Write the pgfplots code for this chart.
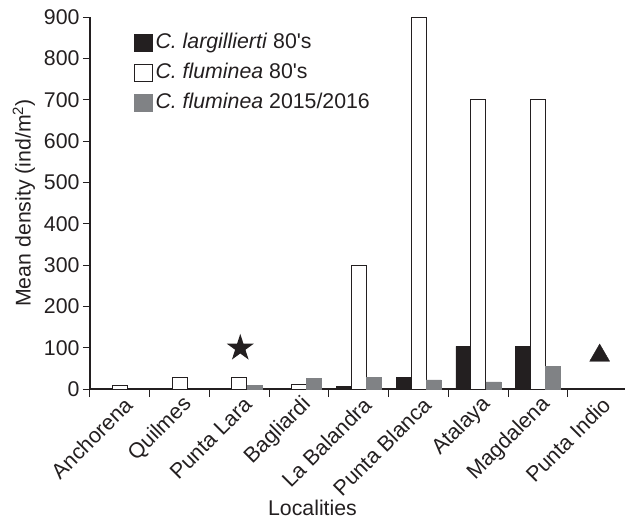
\documentclass[border=0pt]{standalone}
\usepackage{pgfplots}
\pgfplotsset{compat=1.18}
\usepackage{fontspec}
\setmainfont{Liberation Sans}[Ligatures=TeXOff]
\definecolor{dk}{HTML}{231F20}
\definecolor{gr}{HTML}{808285}
\newcommand\f{\fontsize{21.3bp}{25bp}\selectfont}
\newcommand\fx{\fontsize{21.5bp}{25bp}\selectfont}
\pgfplotsset{sq/.style={legend image code/.code={\draw[##1] (0bp,-8.5bp) rectangle (18bp,8.5bp);}}}
\pgfdeclareplotmark{fstar}{%
  \pgfpathmoveto{\pgfpointpolar{90}{\pgfplotmarksize}}%
  \pgfpathlineto{\pgfpointpolar{126}{0.382\pgfplotmarksize}}%
  \pgfpathlineto{\pgfpointpolar{162}{\pgfplotmarksize}}%
  \pgfpathlineto{\pgfpointpolar{198}{0.382\pgfplotmarksize}}%
  \pgfpathlineto{\pgfpointpolar{234}{\pgfplotmarksize}}%
  \pgfpathlineto{\pgfpointpolar{270}{0.382\pgfplotmarksize}}%
  \pgfpathlineto{\pgfpointpolar{306}{\pgfplotmarksize}}%
  \pgfpathlineto{\pgfpointpolar{342}{0.382\pgfplotmarksize}}%
  \pgfpathlineto{\pgfpointpolar{18}{\pgfplotmarksize}}%
  \pgfpathlineto{\pgfpointpolar{54}{0.382\pgfplotmarksize}}%
  \pgfpathclose\pgfusepathqfill}
\begin{document}
\begin{tikzpicture}
\begin{axis}[
  scale only axis, width=535bp, height=372bp,
  xmin=-0.5, xmax=8.454, ymin=0, ymax=900,
  axis x line*=bottom, axis y line*=left,
  ytick={0,100,...,900},
  xtick={0,...,8},
  xticklabels={Anchorena,Quilmes,Punta Lara,Bagliardi,La Balandra,Punta Blanca,Atalaya,Magdalena,Punta Indio},
  minor xtick={-0.5,0.5,...,7.5},
  major x tick style={draw=none},
  tick align=outside, major tick length=7bp, minor tick length=8bp,
  tick style={dk, line width=1bp},
  axis line style={dk, line width=1.2bp},
  x tick label style={rotate=45, anchor=east, font=\fx, text=dk, xshift=5.8bp, yshift=-9.7bp},
  y tick label style={font=\f, text=dk},
  /pgf/number format/assume math mode=true,
  clip=false,
  ylabel={Mean density (ind/m\textsuperscript{2})},
  ylabel style={at={(rel axis cs:0,0.5)}, anchor=center, yshift=66bp, font=\f, text=dk},
  xlabel={Localities},
  xlabel style={at={(axis cs:3.224,0)}, anchor=center, yshift=-119bp, font=\f, text=dk},
  legend style={at={(rel axis cs:0.081,0.96)}, anchor=north west, draw=none, fill=none,
    inner sep=0pt, font=\f, text=dk, row sep=8bp, column sep=1.5bp,
    nodes={inner sep=1.5bp, text height=15bp, text depth=4bp}},
  legend cell align=left,
]
\addplot[ybar, bar width=15bp, bar shift=-15bp, fill=dk, draw=dk, line width=0.5bp, sq]
  coordinates {(4,7) (5,28) (6,103) (7,103)};
\addlegendentry{\textit{C. largillierti} 80's}
\addplot[ybar, bar width=15bp, bar shift=0bp, fill=white, draw=dk, line width=1bp, sq]
  coordinates {(0,9) (1,27) (2,29) (3,11) (4,300) (5,900) (6,700) (7,700)};
\addlegendentry{\textit{C. fluminea} 80's}
\addplot[ybar, bar width=15bp, bar shift=15bp, fill=gr, draw=gr, line width=0.5bp, sq]
  coordinates {(2,8) (3,25) (4,28) (5,22) (6,17) (7,55)};
\addlegendentry{\textit{C. fluminea} 2015/2016}
\addplot[only marks, mark=fstar, mark size=14.2bp, color=dk, forget plot]
  coordinates {(2.015,99)};
\addplot[only marks, mark=triangle*, mark size=11.5bp, color=dk, forget plot]
  coordinates {(8.03,81)};
\coordinate (o) at (axis cs:-0.5,0);
\end{axis}
\pgfresetboundingbox
\path (o) ++(-90bp,-131bp) rectangle ++(625bp,520bp);
\end{tikzpicture}
\end{document}
